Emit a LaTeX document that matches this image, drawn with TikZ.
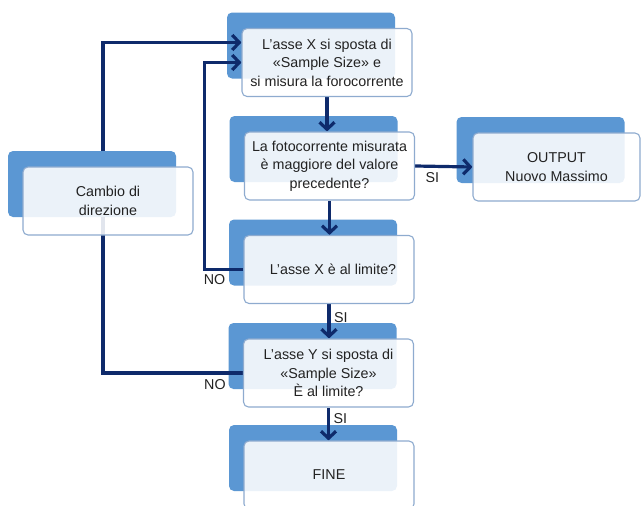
\documentclass[tikz,border=0pt]{standalone}
\usepackage{fontspec}
\setmainfont{Liberation Sans}
\usetikzlibrary{arrows.meta}

\definecolor{navy}{HTML}{0E2A6B}
\definecolor{boxblue}{HTML}{5B97D3}
\definecolor{boxedge}{HTML}{8EABCF}
\definecolor{txt}{HTML}{222222}

\pgfdeclarelayer{bg}
\pgfdeclarelayer{lines}
\pgfsetlayers{bg,lines,main}

\tikzset{
  stepbox/.style={draw=boxedge, line width=1.1pt, rounded corners=5pt,
    fill=white, fill opacity=0.88, text opacity=1, text=txt,
    minimum width=170pt, minimum height=68pt, inner sep=0pt, align=center,
    font=\fontsize{14.3}{18.5}\selectfont},
  backbox/.style={fill=boxblue, rounded corners=5pt,
    minimum width=168pt, minimum height=66pt, inner sep=0pt},
  flow/.style={draw=navy, line width=3.2pt,
    -{Straight Barb[length=7pt,width=15pt]}},
  flowline/.style={draw=navy, line width=3.2pt},
  lbl/.style={text=txt, inner sep=1.5pt, font=\fontsize{14.3}{16}\selectfont}
}

\begin{document}
\begin{tikzpicture}[x=1pt, y=-1pt]
  \useasboundingbox (0,0) rectangle (641,506);

  % Front boxes
  \node[stepbox] (misura)    at (327,62.5) {L’asse X si sposta di\\«Sample Size» e\\si misura la forocorrente};
  \node[stepbox] (confronto) at (329.5,166) {La fotocorrente misurata\\è maggiore del valore\\precedente?};
  \node[stepbox, minimum width=167pt] (output) at (556.5,167) {OUTPUT\\Nuovo Massimo};
  \node[stepbox] (limx)      at (329,269.5) {\hspace*{8pt}L’asse X è al limite?};
  \node[stepbox] (limy)      at (328.5,373) {L’asse Y si sposta di\\«Sample Size»\\È al limite?};
  \node[stepbox] (fine)      at (329,475) {FINE};
  \node[stepbox] (cambio)    at (108,201) {Cambio di\\direzione};

  % Back boxes
  \begin{pgfonlayer}{bg}
    \foreach \n in {misura,confronto,output,limx,limy,fine,cambio}
      \node[backbox] (\n bk) at ([shift={(-16,-17)}]\n.center) {};
  \end{pgfonlayer}

  % Connectors
  \begin{pgfonlayer}{lines}
    \draw[flow] (misura.south) -- (misura.south |- confronto.north);
    \draw[flow] (confronto.east) -- node[lbl, below=3pt, pos=0.3] (si1) {SI} (output.west);
    \draw[flow] (confronto.south) -- (confronto.south |- limx.north);
    \draw[flow] (limx.south) -- node[lbl, right=2pt, pos=0.38] (si2) {SI} (limx.south |- limy.north);
    \draw[flow] (limy.south) -- node[lbl, right=2pt, pos=0.33] (si3) {SI} (limy.south |- fine.north);

    % NO loop back to the X step
    \draw[flow] (limx.west) -- node[lbl, below=2pt, pos=0.74] (no1) {NO} ++(-39,0) |- (misura.west);

    % NO on Y: change of direction
    \draw[flowline] (limy.west) -| node[lbl, below=3pt, pos=0.1] (no2) {NO} ([xshift=11pt]cambiobk.south);
    \draw[flow] ([xshift=11pt]cambiobk.north) |- ([yshift=20pt]misura.west);
  \end{pgfonlayer}

\end{tikzpicture}
\end{document}
